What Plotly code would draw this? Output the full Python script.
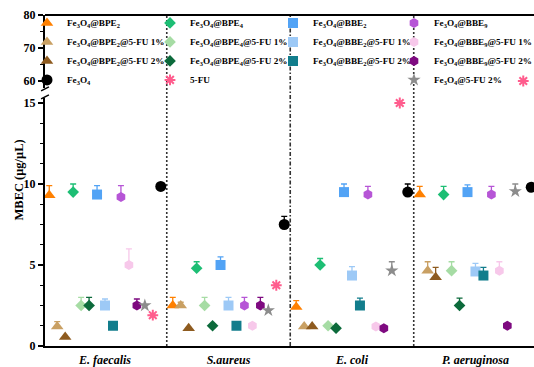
import plotly.graph_objects as go

# ---------------- data ----------------
categories = ["E. faecalis", "S.aureus", "E. coli", "P. aeruginosa"]

bpe2_vals = [9.3, 2.5, 2.4, 9.35]
bpe2_err = [0.6, 0.5, 0.4, 0.5]
bpe2_1_vals = [1.2, 2.5, 1.2, 4.65]
bpe2_1_err = [0.3, 0.2, 0.0, 0.55]
bpe2_2_vals = [0.55, 1.1, 1.2, 4.25]
bpe2_2_err = [0.0, 0.0, 0.0, 0.6]
bpe4_vals = [9.5, 4.8, 5.0, 9.35]
bpe4_err = [0.5, 0.4, 0.4, 0.5]
bpe4_1_vals = [2.5, 2.5, 1.25, 4.65]
bpe4_1_err = [0.5, 0.5, 0.0, 0.55]
bpe4_2_vals = [2.5, 1.25, 1.1, 2.5]
bpe4_2_err = [0.5, 0.0, 0.0, 0.45]
bbe2_vals = [9.35, 5.0, 9.5, 9.5]
bbe2_err = [0.55, 0.5, 0.5, 0.45]
bbe2_1_vals = [2.5, 2.5, 4.35, 4.6]
bbe2_1_err = [0.4, 0.5, 0.55, 0.5]
bbe2_2_vals = [1.25, 1.25, 2.5, 4.35]
bbe2_2_err = [0.0, 0.0, 0.45, 0.5]
bbe9_vals = [9.2, 2.5, 9.35, 9.35]
bbe9_err = [0.7, 0.5, 0.5, 0.5]
bbe9_1_vals = [5.0, 1.25, 1.2, 4.65]
bbe9_1_err = [1.0, 0.0, 0.0, 0.55]
bbe9_2_vals = [2.5, 2.5, 1.1, 1.25]
bbe9_2_err = [0.4, 0.5, 0.0, 0.0]
fu2_vals = [2.5, 2.2, 4.65, 9.55]
fu2_err = [0.0, 0.0, 0.55, 0.45]
fu_vals = [1.9, 3.75, 15.0, 60.0]
fu_err = [0.0, 0.0, 0.0, 0.0]
fe3o4_vals = [9.85, 7.5, 9.5, 9.8]
fe3o4_err = [0.0, 0.5, 0.5, 0.0]

FE = "Fe<sub>3</sub>O<sub>4</sub>"
series = [
    (FE + "@BPE<sub>2</sub>", bpe2_vals, bpe2_err, "triangle-up", "#FF8000", 11, "legend"),
    (FE + "@BPE<sub>2</sub>@5-FU 1%", bpe2_1_vals, bpe2_1_err, "triangle-up", "#C9A063", 11, "legend"),
    (FE + "@BPE<sub>2</sub>@5-FU 2%", bpe2_2_vals, bpe2_2_err, "triangle-up", "#8E5B1F", 11, "legend"),
    (FE + "@BPE<sub>4</sub>", bpe4_vals, bpe4_err, "diamond", "#1DBE74", 9, "legend2"),
    (FE + "@BPE<sub>4</sub>@5-FU 1%", bpe4_1_vals, bpe4_1_err, "diamond", "#A6DCA4", 9, "legend2"),
    (FE + "@BPE<sub>4</sub>@5-FU 2%", bpe4_2_vals, bpe4_2_err, "diamond", "#0C6A3B", 9, "legend2"),
    (FE + "@BBE<sub>2</sub>", bbe2_vals, bbe2_err, "square", "#52A3F5", 10, "legend3"),
    (FE + "@BBE<sub>2</sub>@5-FU 1%", bbe2_1_vals, bbe2_1_err, "square", "#9DC9F6", 10, "legend3"),
    (FE + "@BBE<sub>2</sub>@5-FU 2%", bbe2_2_vals, bbe2_2_err, "square", "#127D8C", 10, "legend3"),
    (FE + "@BBE<sub>9</sub>", bbe9_vals, bbe9_err, "hexagon", "#B655D6", 10, "legend4"),
    (FE + "@BBE<sub>9</sub>@5-FU 1%", bbe9_1_vals, bbe9_1_err, "hexagon", "#F7C8EA", 10, "legend4"),
    (FE + "@BBE<sub>9</sub>@5-FU 2%", bbe9_2_vals, bbe9_2_err, "hexagon", "#7E0A80", 10, "legend4"),
    (FE + "@5-FU 2%", fu2_vals, fu2_err, "star", "#8C8C8C", 10, "legend4"),
    ("5-FU", fu_vals, fu_err, "asterisk", "#FF5C8D", 9, "legend2"),
    (FE, fe3o4_vals, fe3o4_err, "circle", "#000000", 11, "legend"),
]

# ---------------- layout constants ----------------
W, H = 534, 367
ML, MR, MT, MB = 45, 0, 15, 21
plot_w = W - ML - MR
plot_h = H - MT - MB
LOW_MAX = 15.3
UP_MIN, UP_MAX = 58, 80
low_top = LOW_MAX * 16.2 / plot_h
up_bot = 1 - (UP_MAX - UP_MIN) * 3.3 / plot_h
BREAK = 15.5
step = 0.0645
n = len(series)

FONT = "Liberation Serif"
fig = go.Figure()

for i, (name, vals, errs, sym, col, size, leg) in enumerate(series):
    off = (i - (n - 1) / 2) * step
    xs_lo, ys_lo, es_lo, xs_hi, ys_hi, es_hi = [], [], [], [], [], []
    for c, (v, e) in enumerate(zip(vals, errs)):
        if v <= BREAK:
            xs_lo.append(c + off); ys_lo.append(v); es_lo.append(e)
        else:
            xs_hi.append(c + off); ys_hi.append(v); es_hi.append(e)
    marker = dict(symbol=sym, color=col, size=size, line=dict(width=0, color=col))
    if sym == "asterisk":
        marker["line"] = dict(width=2, color=col)
    err = lambda es: dict(type="data", array=es, arrayminus=[0] * len(es), symmetric=False,
                          color=col, thickness=1.3, width=3, visible=True)
    fig.add_trace(go.Scatter(x=xs_lo, y=ys_lo, mode="markers", name=name, marker=marker,
                             error_y=err(es_lo), legend=leg, yaxis="y", cliponaxis=False))
    if xs_hi:
        fig.add_trace(go.Scatter(x=xs_hi, y=ys_hi, mode="markers", name=name, marker=marker,
                                 error_y=err(es_hi), legend=leg, yaxis="y2", showlegend=False,
                                 cliponaxis=False))

# separators between categories
for k, dash in [(0.5, "2px,2px"), (1.5, "4px,2px,1.5px,2px"), (2.5, "2px,2px")]:
    fig.add_shape(type="line", xref="x", yref="paper", x0=k, x1=k, y0=0, y1=1,
                  line=dict(color="#333333", width=1.6, dash=dash), layer="below")

# top frame line
fig.add_shape(type="line", xref="paper", yref="paper", x0=0, x1=1, y0=1, y1=1,
              line=dict(color="black", width=2))
# axis break marks
for yy in [low_top + 0.004, up_bot - 0.004]:
    fig.add_shape(type="line", xref="paper", yref="paper", x0=-0.008, x1=0.008,
                  y0=yy - 0.006, y1=yy + 0.006, line=dict(color="black", width=1.5))

axis_font = dict(family=FONT, size=12, color="black", weight="bold")
leg_common = dict(font=dict(family=FONT, size=9.2, color="black", weight="bold"),
                  bgcolor="rgba(0,0,0,0)", borderwidth=0, yanchor="top", xanchor="left",
                  tracegroupgap=0, itemwidth=30)

def lx(px):  # legend left edge in plot fraction from a pixel position
    return (px - ML) / plot_w

fig.update_layout(
    width=W, height=H,
    margin=dict(l=ML, r=MR, t=MT, b=MB, autoexpand=False),
    plot_bgcolor="white", paper_bgcolor="white",
    font=dict(family=FONT, color="black"),
    xaxis=dict(range=[-0.486, 3.474], tickmode="array", tickvals=list(range(len(categories))),
               ticktext=categories, showgrid=False, zeroline=False, showline=True,
               linecolor="black", linewidth=2, ticks="",
               tickfont=dict(family=FONT, size=12, color="black", weight="bold", style="italic"),
               ticklabelstandoff=2, anchor="y", automargin=False),
    yaxis=dict(domain=[0, low_top], range=[0, LOW_MAX], tickvals=[0, 5, 10, 15],
               showgrid=False, zeroline=False, showline=True, linecolor="black", linewidth=2,
               ticks="outside", ticklen=5, tickwidth=1.5, tickcolor="black", tickfont=axis_font,
               automargin=False,
               minor=dict(dtick=1.25, tick0=0, ticks="outside", ticklen=3, tickwidth=1.2,
                          tickcolor="black", showgrid=False)),
    yaxis2=dict(domain=[up_bot, 1], range=[UP_MIN, UP_MAX], tickvals=[60, 70, 80],
                showgrid=False, zeroline=False, showline=True, linecolor="black", linewidth=2,
                ticks="outside", ticklen=5, tickwidth=1.5, tickcolor="black", tickfont=axis_font,
                automargin=False,
                minor=dict(dtick=5, tick0=0, ticks="outside", ticklen=3, tickwidth=1.2,
                           tickcolor="black", showgrid=False), anchor="x"),
    legend=dict(x=lx(27), y=1.02, **leg_common),
    legend2=dict(x=lx(150), y=1.02, **leg_common),
    legend3=dict(x=lx(273), y=1.02, **leg_common),
    legend4=dict(x=lx(394), y=1.02, **leg_common),
    showlegend=True,
    annotations=[dict(text="<b>MBEC (μg/μL)</b>", xref="paper", yref="paper",
                      x=lx(18), y=0.5, xanchor="center", yanchor="middle",
                      textangle=-90, showarrow=False,
                      font=dict(family=FONT, size=12.5, color="black"))],
)

fig.write_html("out.html")
